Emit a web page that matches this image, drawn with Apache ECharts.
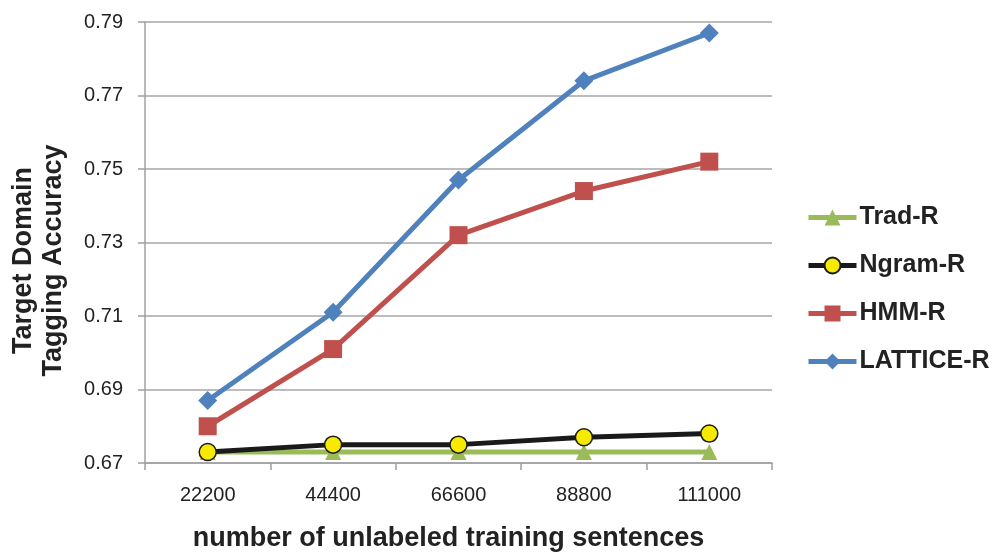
<!DOCTYPE html>
<html><head><meta charset="utf-8">
<script src="https://cdn.jsdelivr.net/npm/echarts@6/dist/echarts.min.js"></script>
<style>html,body{margin:0;padding:0;background:#fff}#c{width:996px;height:552px}</style>
</head><body><div id="c"></div>
<script>
const categories = ['22200','44400','66600','88800','111000'];
const tradR = [0.673,0.673,0.673,0.673,0.673];
const ngramR = [0.673,0.675,0.675,0.677,0.678];
const hmmR = [0.680,0.701,0.732,0.744,0.752];
const latticeR = [0.687,0.711,0.747,0.774,0.787];
const yTicks = [0.67,0.69,0.71,0.73,0.75,0.77,0.79];

const chart = echarts.init(document.getElementById('c'));
const font = 'Liberation Sans, Arial, sans-serif';
function ser(name, data, color, symbol, size, extra){
  return Object.assign({name, type:'line', data, symbol, symbolSize:size,
    lineStyle:{color, width:5}, itemStyle:{color}, z: 2}, extra||{});
}
chart.setOption({
  animation:false,
  grid:{left:145,right:224,top:22,bottom:89,containLabel:false,outerBoundsMode:'none'},
  xAxis:{type:'category',data:categories,boundaryGap:true,
    axisLine:{lineStyle:{color:'#a0a0a0',width:1.5}},
    axisTick:{show:true,inside:false,length:7,lineStyle:{color:'#a0a0a0',width:1.5}},
    axisLabel:{color:'#222',fontSize:20,fontFamily:font,margin:22},
    name:'number of unlabeled training sentences',nameLocation:'middle',nameGap:62,
    nameTextStyle:{fontSize:27,fontWeight:'bold',color:'#222',fontFamily:font,padding:[0,20,0,0]}},
  yAxis:{type:'value',min:0.67,max:0.79,
    axisLine:{show:true,lineStyle:{color:'#a0a0a0',width:1.5}},
    axisTick:{show:true,length:7,customValues:yTicks,lineStyle:{color:'#a0a0a0',width:1.5}},
    axisLabel:{color:'#222',fontSize:20,fontFamily:font,margin:22,customValues:yTicks,
      formatter:v=>v.toFixed(2)},
    splitLine:{show:true,lineStyle:{color:'#a6a6a6',width:1.5}},
    name:'Target Domain\nTagging Accuracy',nameLocation:'middle',nameGap:76,
    nameTextStyle:{fontSize:27,fontWeight:'bold',color:'#222',fontFamily:font,lineHeight:30,padding:[0,36,0,0]}},
  legend:{orient:'vertical',left:801,top:200,itemGap:23,itemWidth:48,itemHeight:20,
    lineStyle:{width:5},
    textStyle:{fontSize:25,fontWeight:'bold',color:'#222',fontFamily:font,padding:[0,0,0,-2]},
    data:['Trad-R','Ngram-R','HMM-R','LATTICE-R']},
  series:[
    ser('Trad-R',tradR,'#9bbb59','triangle',16),
    ser('Ngram-R',ngramR,'#1a1a1a','circle',17,{itemStyle:{color:'#f5ea00',borderColor:'#1a1a1a',borderWidth:1.5}}),
    ser('HMM-R',hmmR,'#c0504d','rect',18),
    ser('LATTICE-R',latticeR,'#4f81bd','diamond',19)
  ]
});
</script></body></html>
